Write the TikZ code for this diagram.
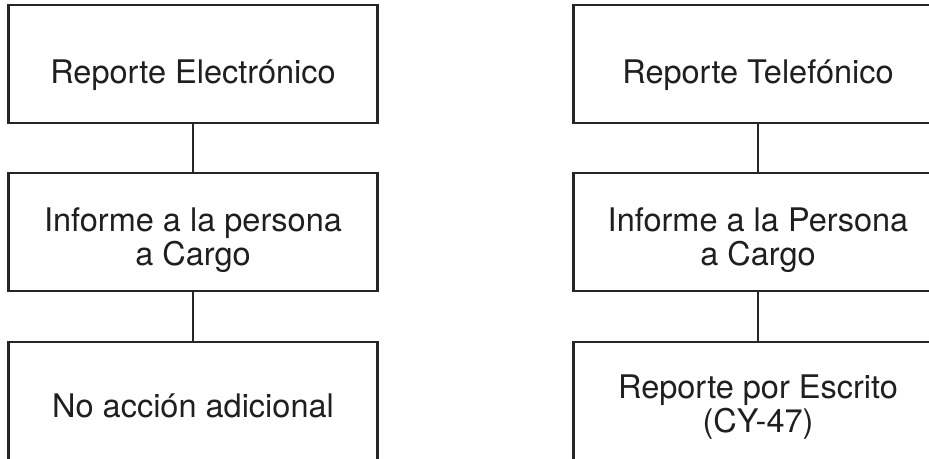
\documentclass[tikz,border=0pt]{standalone}
\usepackage{fontspec}
\setmainfont{TeX Gyre Heros}
\begin{document}
\begin{tikzpicture}[x=1pt,y=-1pt,
  box/.style={draw=black!85, line width=2.3pt, minimum width=369pt, minimum height=118pt, inner sep=0pt},
  lbl/.style={font=\fontsize{32.5}{34}\selectfont, text=black!88, align=center, inner sep=0pt, anchor=base},
  link/.style={draw=black!85, line width=2.3pt}]
\useasboundingbox (0,0) rectangle (929,458);
\clip (0,0) rectangle (929,458);
\node[box] (l1) at (193,64) {};
\node[box] (l2) at (193,232) {};
\node[box] (l3) at (193,401) {};
\node[box] (r1) at (758,64) {};
\node[box] (r2) at (758,232) {};
\node[box] (r3) at (758,401) {};
\draw[link] (l1.south) -- (l2.north);
\draw[link] (l2.south) -- (l3.north);
\draw[link] (r1.south) -- (r2.north);
\draw[link] (r2.south) -- (r3.north);
\node[lbl] (t1) at (193,83) {Reporte Electrónico};
\node[lbl] (t2) at (193,265) {Informe a la persona\\a Cargo};
\node[lbl] (t3) at (193,417) {No acción adicional};
\node[lbl] (t4) at (758,83) {Reporte Telefónico};
\node[lbl] (t5) at (758,265) {Informe a la Persona\\a Cargo};
\node[lbl] (t6) at (758,432) {Reporte por Escrito\\(CY-47)};
\end{tikzpicture}
\end{document}
